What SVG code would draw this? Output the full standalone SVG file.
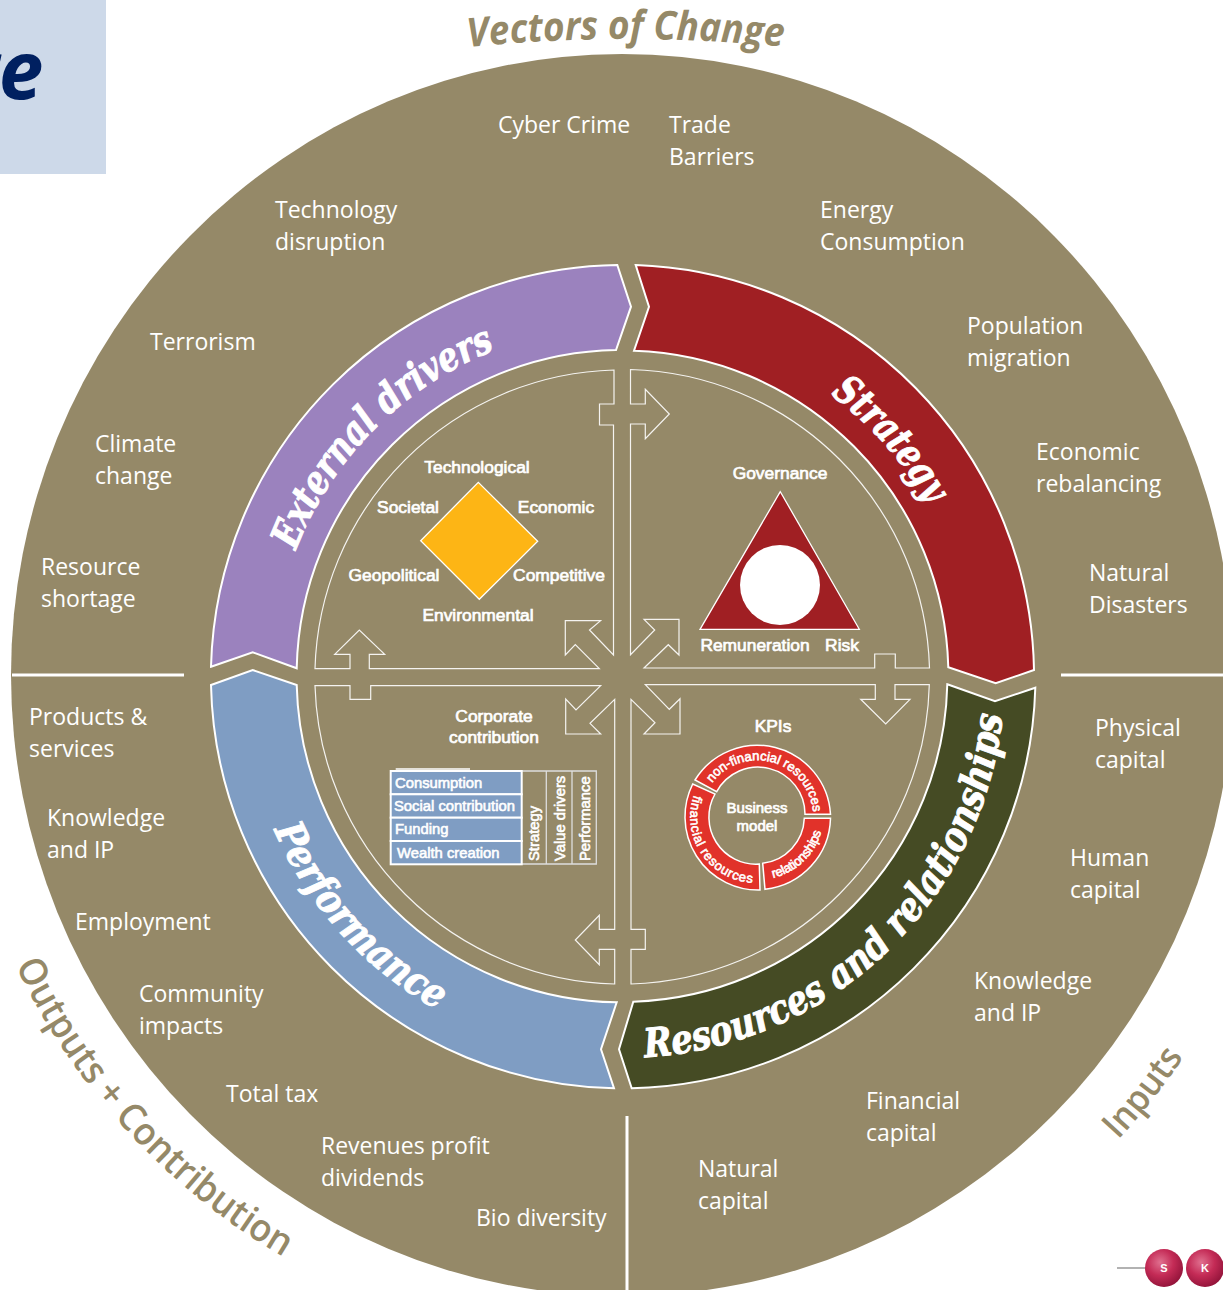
<svg xmlns="http://www.w3.org/2000/svg" width="1223" height="1290" viewBox="0 0 1223 1290">
<style>
.o{font-family:"Open Sans","Noto Sans",sans-serif;font-size:23px;fill:#fff}
.l{font-family:"Liberation Sans",Arial,sans-serif;font-size:17.4px;fill:#fff;stroke:#fff;stroke-width:.7;text-anchor:middle}
.s{font-family:"Liberation Sans",Arial,sans-serif;font-size:14.8px;fill:#fff;stroke:#fff;stroke-width:.6}
.seg{stroke:#fff;stroke-width:2}
.arr{fill:none;stroke:#fff;stroke-width:1.2;stroke-opacity:.9}
.big{font-family:"DejaVu Serif",serif;font-weight:bold;font-style:italic;font-size:40px;fill:#fff;stroke:#fff;stroke-width:1}
.hd{font-family:"Open Sans","Noto Sans",sans-serif;fill:#958968;font-size:38px;font-weight:600}
.div{stroke:#fff;stroke-width:3}
.r{font-family:"Liberation Sans",Arial,sans-serif;font-size:13px;fill:#fff;stroke:#fff;stroke-width:.6}
</style>
<defs>
<radialGradient id="ball" cx=".4" cy=".35" r=".7"><stop offset="0" stop-color="#e0708f"/><stop offset=".5" stop-color="#c42b56"/><stop offset="1" stop-color="#8f1238"/></radialGradient>
<path id="pV" d="M468,47 Q626,31 786,47"/>
<path id="pO" d="M15.5,965.3 A672 672 0 0 0 292,1262"/>
<path id="pI" d="M1118,1140 A680 680 0 0 0 1185,1055"/>
<path id="pE" d="M295.7,550.6 A350 350 0 0 1 497,349.2"/>
<path id="pS" d="M830.7,394.6 A350 350 0 0 1 931.5,511.7"/>
<path id="pR" d="M645.2,1057.3 A382 382 0 0 0 1003,712"/>
<path id="pP" d="M274,830 A382 382 0 0 0 446,1014.8"/>
<path id="rN" d="M712,783 A56 56 0 0 1 813,813"/>
<path id="rR" d="M773,878 A66 66 0 0 0 821,833"/>
<path id="rF" d="M694,795 A66 66 0 0 0 757,883"/>
</defs>
<rect width="1223" height="1290" fill="#fff"/>
<g id="title-box"><rect width="106" height="174" fill="#cdd9e9"/><text x="-35" y="99" font-family="'Open Sans',sans-serif" font-weight="700" font-style="italic" font-size="80" fill="#002060">re</text></g>
<ellipse id="disc" cx="622" cy="675" rx="611" ry="621" fill="#958968"/>
<g id="connectors">
<path class="div" d="M12,675H184M1061,675H1223M627,1116V1290"/>
<path class="arr" d="M614,370V404H599.5V425H613.5V655L589.5,630L600.6,620.7H565.3V655L575.3,644.7L599.3,668.7H369.3V654.3H384.7L359.3,630L334.7,654.3H350V668.7H315A307.5 307.5 0 0 1 614,370Z"/>
<path class="arr" d="M630.5,369.5V404H645.3V389.3L669.3,414L645.3,438.7V424H630.5V654.7L654.7,630L644,619.3H679V655L668.3,644.7L644,668H874.7V654H895.3V668H929.5A307.5 307.5 0 0 0 630.5,369.5Z"/>
<path class="arr" d="M315,685.7H350V699.3H370.7V685.7H600.7L576,710L565.7,699V734H600.7L590,723.3L614.7,699.3V929.3H599.3V915.3L575.3,940L599.3,964.7V949.3H614.7V984A307.5 307.5 0 0 1 315,685.7Z"/>
<path class="arr" d="M645.3,684.7H875.3V699.3H860.7L885.7,724L910,699.3H895V684.7H929.3A307.5 307.5 0 0 1 631,984V949.3H645.3V929.3H631V699.3L655,722.7L644,734H680V698.7L669.3,709.3Z"/>
</g>
<g id="external-drivers"><path class="seg" fill="#9b82be" d="M211,666.7L252.7,652.3L296.7,668.3A325 325 0 0 1 616,350L631,306.7L617.3,265A412.5 412.5 0 0 0 211,666.7Z"/><text class="big"><textPath href="#pE" textLength="291" lengthAdjust="spacingAndGlyphs">External drivers</textPath></text></g>
<g id="strategy"><path class="seg" fill="#a01f23" d="M635.7,265A412.5 412.5 0 0 1 1034,670L995.7,683.3L948.3,667.3A325 325 0 0 0 634,350.7L649,306.7Z"/><text class="big"><textPath href="#pS" textLength="147" lengthAdjust="spacingAndGlyphs">Strategy</textPath></text></g>
<g id="resources"><path class="seg" fill="#454b24" d="M947.3,684.3L995,701.3L1035.3,687.7A412.5 412.5 0 0 1 631.7,1088.3L619,1049.3L633.3,1001.7A325 325 0 0 0 947.3,684.3Z"/><text class="big"><textPath href="#pR" textLength="538" lengthAdjust="spacingAndGlyphs">Resources and relationships</textPath></text></g>
<g id="performance"><path class="seg" fill="#7f9dc3" d="M211,685L252.7,670L296.7,685A325 325 0 0 0 616.7,1002.3L601,1049.3L614,1088.3A412.5 412.5 0 0 1 211,685Z"/><text class="big"><textPath href="#pP" textLength="247" lengthAdjust="spacingAndGlyphs">Performance</textPath></text></g>
<g id="vectors-label"><text class="hd" font-style="italic" style="font-size:40px;font-weight:700"><textPath href="#pV" textLength="316" lengthAdjust="spacingAndGlyphs">Vectors of Change</textPath></text></g>
<g id="outputs-label"><text class="hd"><textPath href="#pO" textLength="402" lengthAdjust="spacingAndGlyphs">Outputs + Contribution</textPath></text></g>
<g id="inputs-label"><text class="hd" style="font-size:36px"><textPath href="#pI" textLength="106" lengthAdjust="spacingAndGlyphs">Inputs</textPath></text></g>
<g id="vectors">
<text class="o" x="498" y="133">Cyber Crime</text>
<text class="o" x="669" y="133">Trade</text><text class="o" x="669" y="165">Barriers</text>
<text class="o" x="275" y="218">Technology</text><text class="o" x="275" y="250">disruption</text>
<text class="o" x="820" y="218">Energy</text><text class="o" x="820" y="250">Consumption</text>
<text class="o" x="150" y="350">Terrorism</text>
<text class="o" x="967" y="334">Population</text><text class="o" x="967" y="366">migration</text>
<text class="o" x="95" y="452">Climate</text><text class="o" x="95" y="484">change</text>
<text class="o" x="1036" y="460">Economic</text><text class="o" x="1036" y="492">rebalancing</text>
<text class="o" x="41" y="575">Resource</text><text class="o" x="41" y="607">shortage</text>
<text class="o" x="1089" y="581">Natural</text><text class="o" x="1089" y="613">Disasters</text>
</g>
<g id="outputs">
<text class="o" x="29" y="725">Products &amp;</text><text class="o" x="29" y="757">services</text>
<text class="o" x="47" y="826">Knowledge</text><text class="o" x="47" y="858">and IP</text>
<text class="o" x="75" y="930">Employment</text>
<text class="o" x="139" y="1002">Community</text><text class="o" x="139" y="1034">impacts</text>
<text class="o" x="226" y="1102">Total tax</text>
<text class="o" x="321" y="1154">Revenues profit</text><text class="o" x="321" y="1186">dividends</text>
<text class="o" x="476" y="1226">Bio diversity</text>
</g>
<g id="inputs">
<text class="o" x="1095" y="736">Physical</text><text class="o" x="1095" y="768">capital</text>
<text class="o" x="1070" y="866">Human</text><text class="o" x="1070" y="898">capital</text>
<text class="o" x="974" y="989">Knowledge</text><text class="o" x="974" y="1021">and IP</text>
<text class="o" x="866" y="1109">Financial</text><text class="o" x="866" y="1141">capital</text>
<text class="o" x="698" y="1177">Natural</text><text class="o" x="698" y="1209">capital</text>
</g>
<g id="pestle">
<path d="M420.7,540.7L478.3,482.3L537.7,541.3L479.3,599.3Z" fill="#fdb515" stroke="#fff" stroke-width="1.3"/>
<text class="l" x="477" y="473">Technological</text>
<text class="l" x="408" y="513">Societal</text>
<text class="l" x="556" y="513">Economic</text>
<text class="l" x="394" y="581">Geopolitical</text>
<text class="l" x="559" y="581">Competitive</text>
<text class="l" x="478" y="621">Environmental</text>
</g>
<g id="governance">
<path d="M780.3,491.7L700,629.3H859.3Z" fill="#a01f23" stroke="#fff" stroke-width="1.3"/>
<circle cx="780" cy="585" r="40" fill="#fff"/>
<text class="l" x="780" y="479">Governance</text>
<text class="l" x="755" y="651">Remuneration</text>
<text class="l" x="842" y="651">Risk</text>
</g>
<g id="corporate-contribution">
<text class="l" x="494" y="722">Corporate</text><text class="l" x="494" y="743">contribution</text>
<path d="M395.7,769H470" stroke="#fff" stroke-width="1.5"/>
<path d="M521.7,771H596.3V864H521.7M546.3,771V864M572,771V864M596.3,771V864" fill="none" stroke="#ddd" stroke-width="1.3"/>
<g fill="#7f9dc3" stroke="#fff" stroke-width="2">
<rect x="390.7" y="771" width="131" height="23.3"/><rect x="390.7" y="794.3" width="131" height="23.4"/><rect x="390.7" y="817.7" width="131" height="23.3"/><rect x="390.7" y="841" width="131" height="23.3"/>
</g>
<text class="s" x="395" y="788">Consumption</text>
<text class="s" x="394" y="811">Social contribution</text>
<text class="s" x="395" y="834">Funding</text>
<text class="s" x="397" y="858">Wealth creation</text>
<text class="s" transform="translate(539,861) rotate(-90)">Strategy</text>
<text class="s" transform="translate(565,861) rotate(-90)">Value drivers</text>
<text class="s" transform="translate(590,861) rotate(-90)">Performance</text>
</g>
<g id="kpis">
<text class="l" x="773" y="732">KPIs</text>
<g fill="#e1322a" stroke="#fff" stroke-width="1.5">
<path d="M695,780A73.3 73.3 0 0 1 830.5,814.3H805A47 47 0 0 0 716.7,791.7Z"/>
<path d="M830.5,818.3A73.3 73.3 0 0 1 765,889.3L762.7,863.3A47 47 0 0 0 804.3,818.3Z"/>
<path d="M760,890A73.3 73.3 0 0 1 692.7,784L715,794A47 47 0 0 0 759.3,864Z"/>
</g>
<text class="r"><textPath href="#rN" textLength="136">non-financial resources</textPath></text>
<text class="r"><textPath href="#rR" textLength="70">relationships</textPath></text>
<text class="r"><textPath href="#rF" textLength="122">financial resources</textPath></text>
<text class="l" style="font-size:15px" x="757" y="813">Business</text>
<text class="l" style="font-size:15px" x="757" y="831">model</text>
</g>
<g id="logo">
<path d="M1117,1268H1147" stroke="#999" stroke-width="1.5"/>
<circle cx="1164" cy="1268" r="19" fill="url(#ball)"/><circle cx="1205" cy="1268" r="19" fill="url(#ball)"/>
<text x="1164" y="1272" font-family="'Liberation Sans',sans-serif" font-weight="700" font-size="11" fill="#fff" text-anchor="middle">S</text>
<text x="1205" y="1272" font-family="'Liberation Sans',sans-serif" font-weight="700" font-size="11" fill="#fff" text-anchor="middle">K</text>
</g>
</svg>
